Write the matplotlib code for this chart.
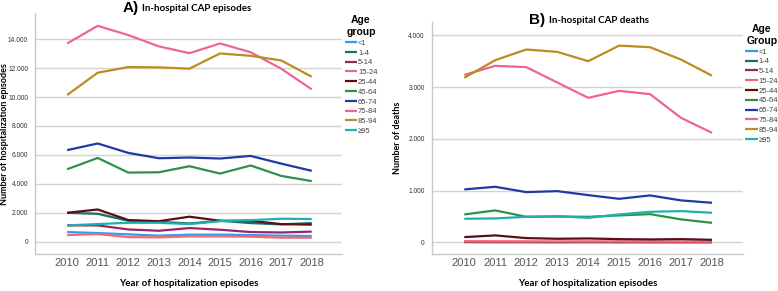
import matplotlib.pyplot as plt
from matplotlib.ticker import FuncFormatter

# Years and age groups
years = [2010, 2011, 2012, 2013, 2014, 2015, 2016, 2017, 2018]
age_groups = ['<1', '1-4', '5-14', '15-24', '25-44', '45-64', '65-74', '75-84', '85-94', '≥95']
colors = ['#2a9df4', '#1c6e62', '#9c2364', '#f4686e', '#5a0f16',
          '#2f9147', '#1d3aa6', '#f0639a', '#b98e1e', '#1fb0ad']

# A) in-hospital CAP episodes
episodes_lt1 = [670, 600, 510, 420, 490, 490, 460, 420, 400]
episodes_1_4 = [2000, 1930, 1450, 1380, 1260, 1450, 1290, 1200, 1290]
episodes_5_14 = [1130, 1130, 850, 760, 945, 830, 670, 640, 700]
episodes_15_24 = [460, 530, 320, 300, 370, 370, 350, 280, 280]
episodes_25_44 = [2000, 2230, 1500, 1420, 1730, 1450, 1450, 1220, 1180]
episodes_45_64 = [5010, 5790, 4780, 4800, 5220, 4710, 5270, 4550, 4190]
episodes_65_74 = [6330, 6790, 6140, 5770, 5820, 5750, 5930, 5400, 4900]
episodes_75_84 = [13700, 14920, 14280, 13500, 13030, 13700, 13100, 11960, 10530]
episodes_85_94 = [10140, 11680, 12070, 12050, 11960, 13010, 12850, 12530, 11400]
episodes_ge95 = [1130, 1220, 1310, 1310, 1220, 1420, 1490, 1590, 1570]

# B) in-hospital CAP deaths
deaths_lt1 = [5, 4, 4, 3, 4, 3, 3, 3, 3]
deaths_1_4 = [8, 7, 6, 5, 6, 5, 5, 4, 4]
deaths_5_14 = [12, 11, 10, 9, 10, 9, 8, 8, 8]
deaths_15_24 = [22, 20, 18, 17, 18, 17, 16, 15, 15]
deaths_25_44 = [102, 135, 83, 70, 76, 63, 57, 63, 50]
deaths_45_64 = [540, 618, 494, 500, 494, 521, 546, 444, 378]
deaths_65_74 = [1023, 1074, 971, 990, 913, 842, 907, 811, 765]
deaths_75_84 = [3235, 3410, 3385, 3089, 2792, 2927, 2863, 2405, 2116]
deaths_85_94 = [3180, 3520, 3725, 3680, 3500, 3800, 3770, 3530, 3220]
deaths_ge95 = [456, 463, 494, 505, 475, 540, 591, 604, 572]

episodes = [episodes_lt1, episodes_1_4, episodes_5_14, episodes_15_24, episodes_25_44,
            episodes_45_64, episodes_65_74, episodes_75_84, episodes_85_94, episodes_ge95]
deaths = [deaths_lt1, deaths_1_4, deaths_5_14, deaths_15_24, deaths_25_44,
          deaths_45_64, deaths_65_74, deaths_75_84, deaths_85_94, deaths_ge95]

plt.rcParams['font.family'] = ['Liberation Sans', 'DejaVu Sans']
label_font = ['Lato', 'DejaVu Sans']

fig = plt.figure(figsize=(7.78, 2.91), dpi=100)
ax1 = fig.add_axes([0.045, 0.127, 0.395, 0.828])
ax2 = fig.add_axes([0.555, 0.127, 0.400, 0.798])

dot_fmt = FuncFormatter(lambda v, p: f'{int(v):,}'.replace(',', '.'))


def style_axis(ax, data, ylim, yticks, ylabel, ylabel_x, legend_title):
    for series, col, lab in zip(data, colors, age_groups):
        ax.plot(years, series, color=col, lw=1.6, label=lab, solid_capstyle='butt')
    ax.set_xlim(2008.95, 2019.0)
    ax.set_ylim(*ylim)
    ax.set_yticks(yticks)
    ax.set_xticks(years)
    ax.yaxis.set_major_formatter(dot_fmt)
    ax.grid(axis='y', color='#d4d4d4', lw=1.0)
    ax.set_axisbelow(True)
    for s in ['top', 'right']:
        ax.spines[s].set_visible(False)
    for s in ['left', 'bottom']:
        ax.spines[s].set_color('#c8c8c8')
        ax.spines[s].set_linewidth(1.0)
    ax.tick_params(axis='y', length=0, labelsize=4.8, pad=5, labelcolor='#333333')
    ax.tick_params(axis='x', length=0, labelsize=8, pad=3, labelcolor='#555555')
    ax.set_ylabel(ylabel, fontsize=6.5, fontweight='bold', family=label_font, va='center')
    ax.yaxis.set_label_coords(ylabel_x, 0.5)
    ax.set_xlabel('Year of hospitalization episodes', fontsize=7,
                  fontweight='bold', labelpad=8, family=label_font)
    leg = ax.legend(loc='upper left', bbox_to_anchor=(1.0, 1.0), frameon=False,
                    fontsize=5.5, handlelength=1.6, handletextpad=0.15,
                    labelspacing=0.32, borderaxespad=0.1, borderpad=0.2,
                    title=legend_title)
    leg.get_title().set_fontweight('bold')
    leg.get_title().set_fontsize(7.5)
    leg.get_title().set_multialignment('center')
    for t in leg.get_texts():
        t.set_color('#444444')


style_axis(ax1, episodes, (-850, 15800), range(0, 14001, 2000),
           'Number of hospitalization episodes', -0.1, 'Age\ngroup')
style_axis(ax2, deaths, (-225, 4260), range(0, 4001, 1000),
           'Number of deaths', -0.11, 'Age\nGroup')

fig.text(0.158, 0.972, 'A)', fontsize=11, fontweight='bold', va='center')
fig.text(0.183, 0.970, 'In-hospital CAP episodes', fontsize=7, fontweight='bold',
         va='center', family=label_font)
fig.text(0.680, 0.932, 'B)', fontsize=11, fontweight='bold', va='center')
fig.text(0.706, 0.930, 'In-hospital CAP deaths', fontsize=7, fontweight='bold',
         va='center', family=label_font)

fig.savefig('out.png', dpi=100)
